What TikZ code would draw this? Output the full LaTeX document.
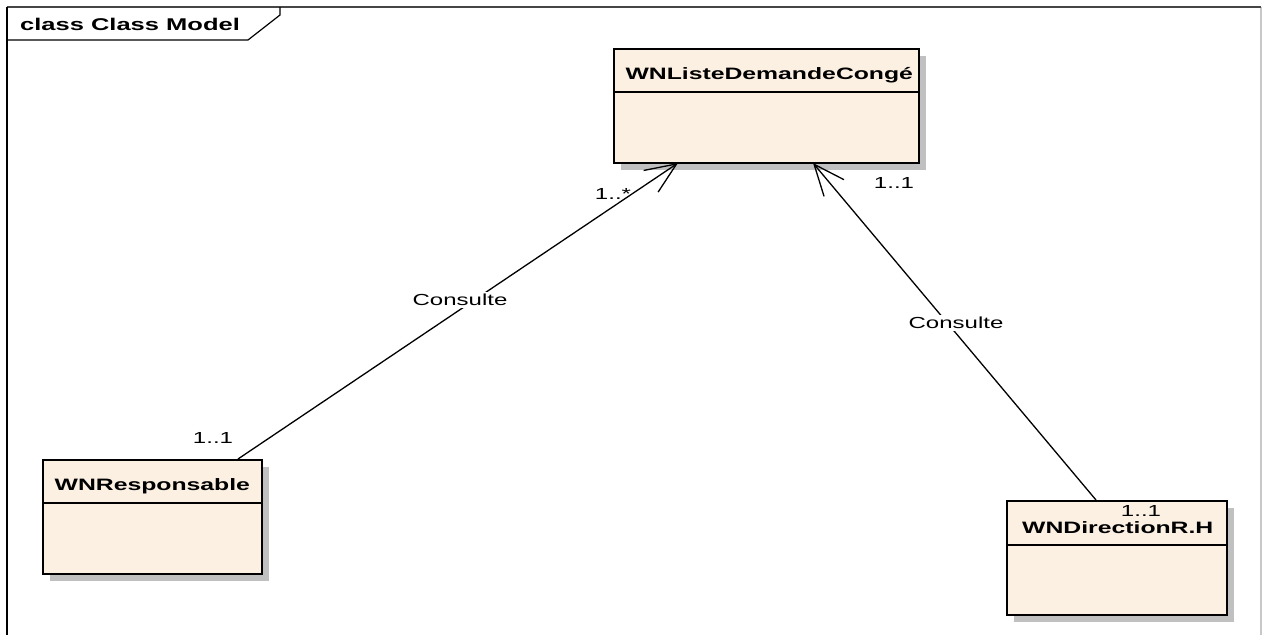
\documentclass[tikz,border=0pt]{standalone}
\usepackage{fontspec}
\setmainfont{Liberation Sans}
\newfontfamily\umlfont[FakeStretch=1.5]{Liberation Sans}
\usetikzlibrary{arrows.meta,shadows,calc}
\definecolor{boxfill}{RGB}{251,240,226}
\definecolor{shadowgray}{RGB}{192,192,192}
\definecolor{framedark}{RGB}{70,70,70}
\definecolor{framelight}{RGB}{200,200,200}
\begin{document}
\begin{tikzpicture}[x=1pt,y=-1pt,
  classbox/.style={draw=black, line width=1.6pt, fill=boxfill, inner sep=0pt,
    anchor=north west, drop shadow={shadow xshift=7pt, shadow yshift=-7pt, fill=shadowgray, opacity=1}},
  classname/.style={inner sep=0pt, font=\umlfont\bfseries\fontsize{16.5}{18}\selectfont},
  sepline/.style={line width=1.2pt},
  lbl/.style={inner sep=0pt, font=\umlfont\fontsize{16}{18}\selectfont},
  assoc/.style={line width=1.3pt, -{Straight Barb[length=31pt,width=26pt,line width=1.3pt]}}
]
\useasboundingbox (0,0) rectangle (1262,635);
% frame
\draw[framelight, line width=1.2pt] (1261,7) -- (1261,635);
\draw[framedark, line width=1.5pt] (7,7) -- (1261,7);
\draw[black, line width=1.5pt] (7,635) -- (7,7);
\draw[black, line width=1.2pt] (7,40) -- (248,40) -- (280,15) -- (280,7);
\node[anchor=west, inner sep=0pt, font=\umlfont\bfseries\fontsize{17}{20}\selectfont] (title) at (20,24) {class Class Model};

% classes
\node[classbox, minimum width=305pt, minimum height=114pt] (liste) at (613,48) {};
\draw[sepline] ($(liste.north west)+(0,44)$) -- ($(liste.north east)+(0,44)$);
\node[classname] (listeName) at ($(liste.north)+(3,27)$) {WNListeDemandeCongé};

\node[classbox, minimum width=219pt, minimum height=114pt] (resp) at (42,459) {};
\draw[sepline] ($(resp.north west)+(0,44)$) -- ($(resp.north east)+(0,44)$);
\node[classname] (respName) at ($(resp.north)+(0,27)$) {WNResponsable};

\node[classbox, minimum width=220pt, minimum height=114pt] (dir) at (1006,500) {};
\draw[sepline] ($(dir.north west)+(0,45)$) -- ($(dir.north east)+(0,45)$);
\node[classname] (dirName) at ($(dir.north)+(1,28)$) {WNDirectionR.H};

% connectors
\coordinate (a1s) at (238,459);
\coordinate (a1e) at (678,163);
\coordinate (a2s) at (1096,500);
\coordinate (a2e) at (813,163);
\draw[assoc] (a1s) -- (a1e);
\draw[assoc] (a2s) -- (a2e);

% labels
\node[lbl, fill=white, inner sep=2pt] (cons1) at (460,300) {Consulte};
\node[lbl, fill=white, inner sep=2pt] (cons2) at (956,323) {Consulte};
\node[lbl] (m1) at (613,194) {1..*};
\node[lbl] (m2) at (894,183) {1..1};
\node[lbl] (m3) at (213,438) {1..1};
\node[lbl] (m4) at (1141,511) {1..1};
\end{tikzpicture}
\end{document}
